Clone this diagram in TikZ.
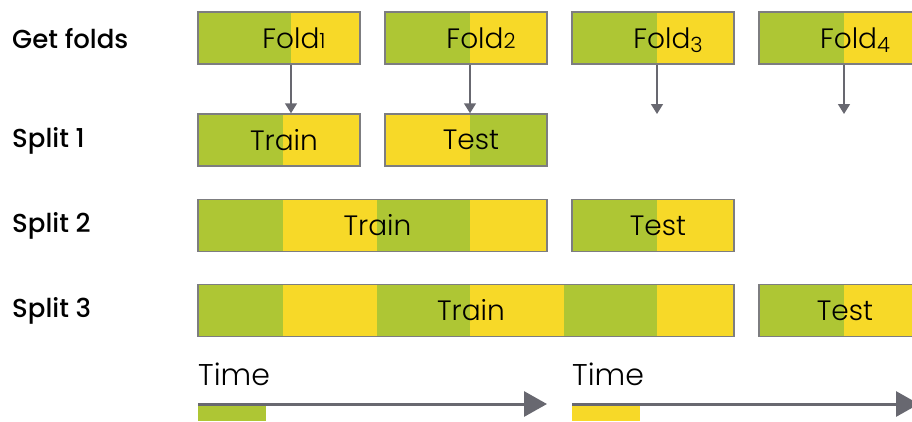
\documentclass[tikz,border=0pt]{standalone}
\usepackage{fontspec}
\setmainfont{Poppins}
\newfontfamily\thinfont{Poppins Light}
\newfontfamily\midfont{Poppins Medium}
\usetikzlibrary{arrows.meta,positioning}

\definecolor{foldgreen}{RGB}{174,198,52}
\definecolor{foldyellow}{RGB}{247,217,40}
\definecolor{boxgray}{RGB}{125,125,128}
\definecolor{arrowgray}{RGB}{104,104,112}

% small old-style figure after "Fold"
\newcommand\foldno[2][0pt]{\raisebox{#1}[0pt][0pt]{\fontsize{21}{21}\selectfont #2}}

\tikzset{
  rowlabel/.style={anchor=west, inner sep=0pt, font=\midfont\fontsize{26}{28}\selectfont},
  bar/.style={draw=boxgray, line width=1.5pt, inner sep=0pt, minimum height=52pt,
    font=\thinfont\fontsize{28}{30}\selectfont, execute at begin node=\hspace*{10pt}},
  foldbar/.style={bar, minimum width=162pt, execute at begin node=\hspace*{20pt}},
  timelabel/.style={anchor=base west, inner sep=0pt, font=\thinfont\fontsize{30}{32}\selectfont},
  flow/.style={arrowgray, line width=1.5pt, -{Triangle[length=10pt,width=12pt]}},
  timeline/.style={arrowgray, line width=3pt, -{Triangle[length=23pt,width=25pt]}}
}

\begin{document}
\begin{tikzpicture}[x=1pt,y=-1pt]
  \useasboundingbox (0,0) rectangle (912,421);
  \clip (0,0) rectangle (912,421);

  % Row labels
  \node[rowlabel] (getfolds) at (12,39) {Get folds};
  \node[rowlabel] (split1) at (12,141) {Split 1};
  \node[rowlabel] (split2) at (12,226) {Split 2};
  \node[rowlabel] (split3) at (12,311) {Split 3};

  % Colour blocks: from/to/colour/top
  \foreach \a/\b/\c/\t in {
      198/291/foldgreen/12, 291/360/foldyellow/12,
      385/470/foldgreen/12, 470/547/foldyellow/12,
      572/657/foldgreen/12, 657/734/foldyellow/12,
      759/844/foldgreen/12, 844/921/foldyellow/12,
      198/283/foldgreen/114, 283/360/foldyellow/114,
      385/470/foldyellow/114, 470/547/foldgreen/114,
      198/283/foldgreen/199.5, 283/377/foldyellow/199.5, 377/470/foldgreen/199.5, 470/547/foldyellow/199.5,
      572/657/foldgreen/199.5, 657/734/foldyellow/199.5,
      198/283/foldgreen/284.5, 283/377/foldyellow/284.5, 377/470/foldgreen/284.5,
      470/564/foldyellow/284.5, 564/657/foldgreen/284.5, 657/734/foldyellow/284.5,
      759/844/foldgreen/284.5, 844/921/foldyellow/284.5}
    \fill[\c] (\a,\t) rectangle (\b,\t+52);

  % Folds
  \node[foldbar] (fold1) at (279,38) {Fold\foldno{1}};
  \node[foldbar] (fold2) at (466,38) {Fold\foldno{2}};
  \node[foldbar] (fold3) at (653,38) {Fold\foldno[-4pt]{3}};
  \node[foldbar] (fold4) at (840,38) {Fold\foldno[-4pt]{4}};

  % Splits
  \node[bar, minimum width=162pt] (train1) at (279,140) {Train};
  \node[bar, minimum width=162pt] (test1) at (466,140) {Test};
  \node[bar, minimum width=349pt] (train2) at (372.5,225.5) {Train};
  \node[bar, minimum width=162pt] (test2) at (653,225.5) {Test};
  \node[bar, minimum width=536pt] (train3) at (466,310.5) {Train};
  \node[bar, minimum width=162pt] (test3) at (840,310.5) {Test};

  % Fold arrows
  \coordinate (cut1) at (291,0);
  \coordinate (cut2) at (470,0);
  \coordinate (end3) at (657,114);
  \coordinate (end4) at (844,114);
  \draw[flow] (fold1.south -| cut1) -- (train1.north -| cut1);
  \draw[flow] (fold2.south -| cut2) -- (test1.north -| cut2);
  \draw[flow] (fold3.south -| end3) -- (end3);
  \draw[flow] (fold4.south -| end4) -- (end4);

  % Time axes
  \node[timelabel] (time1) at (198,385) {Time};
  \node[timelabel] (time2) at (572,385) {Time};
  \coordinate (start1) at (198,404);
  \coordinate (stop1) at (547,404);
  \coordinate (start2) at (572,404);
  \coordinate (stop2) at (919,404);
  \draw[timeline] (start1) -- (stop1);
  \draw[timeline] (start2) -- (stop2);
  \fill[foldgreen] (198,406) rectangle (266,421);
  \fill[foldyellow] (572,406) rectangle (640,421);
\end{tikzpicture}
\end{document}
